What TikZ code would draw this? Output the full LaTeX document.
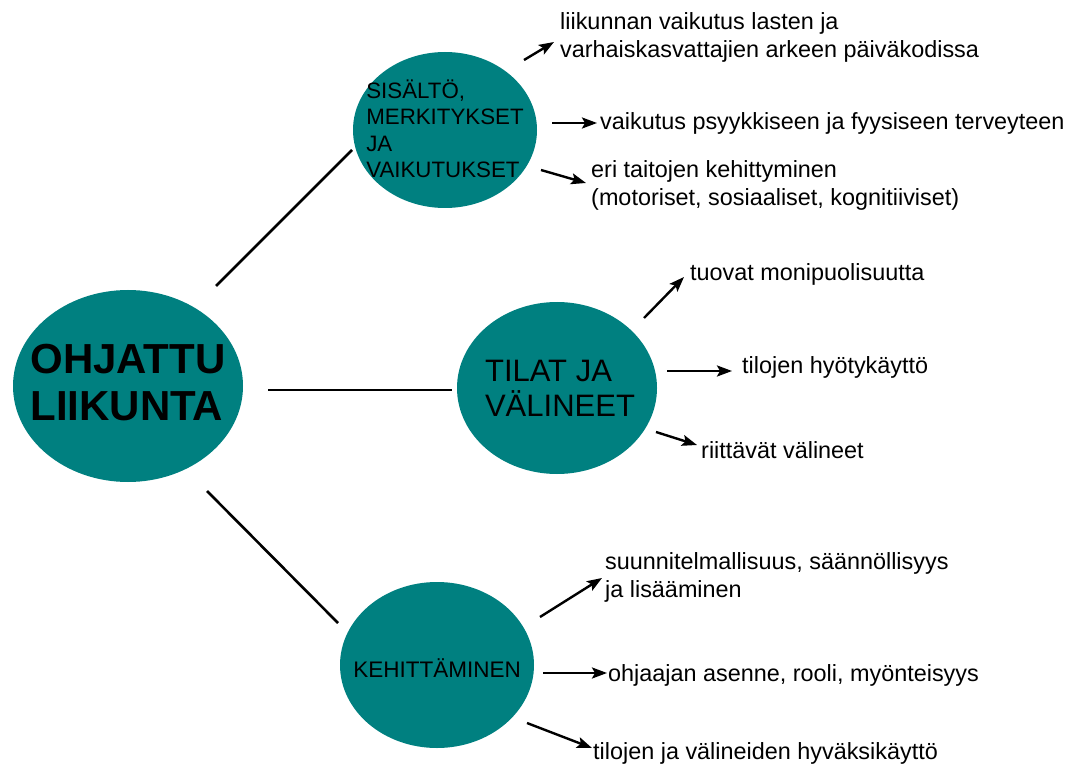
\documentclass[tikz,border=0pt]{standalone}
\usepackage{fontspec}
\setmainfont{Liberation Sans}
\usetikzlibrary{shapes.geometric,arrows.meta}
\definecolor{bubteal}{RGB}{0,128,128}
\tikzset{
  bub/.style={ellipse, fill=bubteal, draw=none, inner sep=0pt},
  conn/.style={line width=2.6pt, black},
  arr/.style={line width=2.4pt, black, -{Stealth[length=15pt,width=11pt,inset=3pt]}},
  lbl/.style={anchor=base west, inner sep=0pt, align=left, font=\fontsize{23.4}{28}\selectfont},
  btext/.style={inner sep=0pt, align=left}
}
\begin{document}
\begin{tikzpicture}[x=1pt,y=-1pt]
\useasboundingbox (0,0) rectangle (1084,767);
% bubbles
\node[bub, minimum width=230, minimum height=192] (main) at (128,386) {};
\node[btext, font=\fontsize{42}{47}\selectfont\bfseries] (maint) at (128,383) {OHJATTU\\LIIKUNTA};
\node[bub, minimum width=184, minimum height=156] (sis) at (445,130) {};
\node[btext, font=\fontsize{22.3}{26.5}\selectfont] (sist) at (445,129) {SISÄLTÖ,\\MERKITYKSET\\JA\\VAIKUTUKSET};
\node[bub, minimum width=200, minimum height=172] (til) at (557,388) {};
\node[btext, font=\fontsize{31}{35}\selectfont] (tilt) at (560,388) {TILAT JA\\VÄLINEET};
\node[bub, minimum width=194, minimum height=166] (keh) at (437,665) {};
\node[btext, font=\fontsize{22.5}{27}\selectfont] (keht) at (437,668) {KEHITTÄMINEN};
% main connectors
\coordinate (c1a) at (216,286); \coordinate (c1b) at (352,150);
\coordinate (c2a) at (268,390); \coordinate (c2b) at (452,390);
\coordinate (c3a) at (207,491); \coordinate (c3b) at (338,623);
\draw[conn] (c1a) -- (c1b);
\draw[conn] (c2a) -- (c2b);
\draw[conn] (c3a) -- (c3b);
% labels (multi-line: anchor is the baseline of the last line)
\node[lbl] (l1) at (560,58) {liikunnan vaikutus lasten ja\\varhaiskasvattajien arkeen päiväkodissa};
\node[lbl] (l2) at (600,130) {vaikutus psyykkiseen ja fyysiseen terveyteen};
\node[lbl] (l3) at (591,206) {eri taitojen kehittyminen\\(motoriset, sosiaaliset, kognitiiviset)};
\node[lbl] (l4) at (690,280) {tuovat monipuolisuutta};
\node[lbl] (l5) at (742,373) {tilojen hyötykäyttö};
\node[lbl] (l6) at (701,458) {riittävät välineet};
\node[lbl] (l7) at (605,597) {suunnitelmallisuus, säännöllisyys\\ja lisääminen};
\node[lbl] (l8) at (608,681) {ohjaajan asenne, rooli, myönteisyys};
\node[lbl] (l9) at (593,759) {tilojen ja välineiden hyväksikäyttö};
% arrows
\coordinate (a1s) at (524,60);  \coordinate (a1e) at (554,42);
\coordinate (a2s) at (552,123); \coordinate (a2e) at (597,123);
\coordinate (a3s) at (541,170); \coordinate (a3e) at (586,183);
\coordinate (a4s) at (644,318); \coordinate (a4e) at (684,277);
\coordinate (a5s) at (667,371); \coordinate (a5e) at (732,371);
\coordinate (a6s) at (656,432); \coordinate (a6e) at (697,445);
\coordinate (a7s) at (540,617); \coordinate (a7e) at (602,578);
\coordinate (a8s) at (543,673); \coordinate (a8e) at (607,673);
\coordinate (a9s) at (527,723); \coordinate (a9e) at (592,748);
\foreach \i in {1,...,9} {\draw[arr] (a\i s) -- (a\i e);}
\end{tikzpicture}
\end{document}
